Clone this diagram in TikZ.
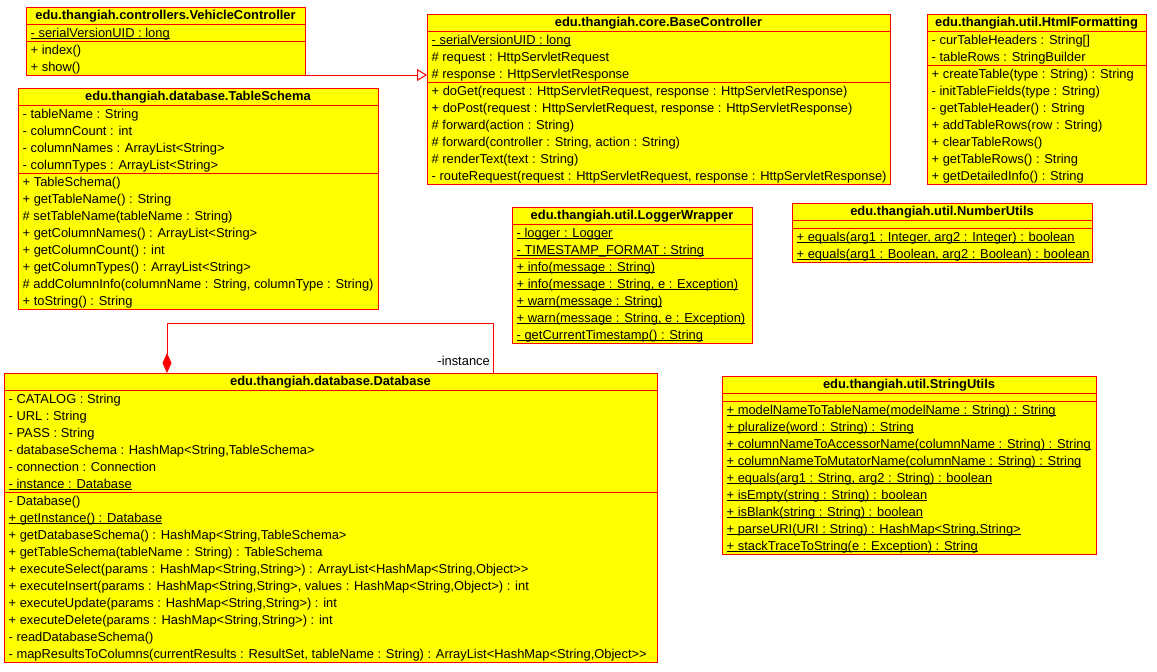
\documentclass[tikz,border=0pt]{standalone}
\usepackage{fontspec}
\setmainfont{Liberation Sans}[Ligatures=TeXOff]
\usetikzlibrary{arrows.meta}
\definecolor{umlred}{RGB}{255,0,0}
\definecolor{umlyellow}{RGB}{255,255,0}
\newcommand\stat[1]{\sbox0{#1}\rlap{\usebox0}\rule[-1.8pt]{\wd0}{0.9pt}}
\tikzset{
  classbox/.style={draw=umlred, fill=umlyellow, line width=1pt, inner sep=0pt, outer sep=0pt},
  sepline/.style={draw=umlred, line width=1pt},
  membertxt/.style={inner sep=0pt, font=\fontsize{12.9}{15}\selectfont, text=black},
  titletxt/.style={inner sep=0pt, font=\fontsize{12.9}{15}\selectfont\bfseries, text=black},
  gen/.style={draw=umlred, line width=1pt, -{Triangle[open, length=10pt, width=12pt, fill=white]}},
  assoc/.style={draw=umlred, line width=1pt, -{Diamond[length=20pt, width=9pt, fill=umlred]}},
  rolelabel/.style={membertxt}
}
\newcommand\umlclass[9]{%
  \pgfmathsetmacro\ucA{#3+17}%
  \pgfmathsetmacro\ucB{\ucA+ifthenelse(#6==0,8,#6*17)}%
  \pgfmathsetmacro\ucC{\ucB+#8*17}%
  \pgfmathsetmacro\ucW{#4-#2}%
  \pgfmathsetmacro\ucH{\ucC-#3}%
  \node[classbox, minimum width=\ucW pt, minimum height=\ucH pt, anchor=north west] (#1) at (#2,#3) {};
  \draw[sepline] (#2,\ucA) -- (#4,\ucA);
  \draw[sepline] (#2,\ucB) -- (#4,\ucB);
  \node[titletxt, anchor=base] (#1-title) at ({(#2+#4)/2},{#3+12.7}) {#5};
  \foreach \t [count=\i] in {#7} {\node[membertxt, anchor=base west] (#1-a\i) at ({#2+4.5},{\ucA+(\i-1)*17+13}) {\t};}
  \foreach \t [count=\i] in {#9} {\node[membertxt, anchor=base west] (#1-m\i) at ({#2+4.5},{\ucB+(\i-1)*17+13}) {\t};}
}
\begin{document}
\begin{tikzpicture}[x=1pt,y=-1pt]
\useasboundingbox[fill=white] (0,0) rectangle (1157,672);

\umlclass{vc}{26}{7}{305}{edu.thangiah.controllers.VehicleController}
  {1}{{\stat{- serialVersionUID : long}}}
  {2}{{+ index()},{+ show()}}

\umlclass{ts}{18}{88}{378}{edu.thangiah.database.TableSchema}
  {4}{{- tableName : String},{- columnCount : int},{- columnNames : ArrayList<String>},{- columnTypes : ArrayList<String>}}
  {8}{{+ TableSchema()},{+ getTableName() : String},{\# setTableName(tableName : String)},{+ getColumnNames() : ArrayList<String>},{+ getColumnCount() : int},{+ getColumnTypes() : ArrayList<String>},{\# addColumnInfo(columnName : String, columnType : String)},{+ toString() : String}}

\umlclass{bc}{427}{14}{890}{edu.thangiah.core.BaseController}
  {3}{{\stat{- serialVersionUID : long}},{\# request : HttpServletRequest},{\# response : HttpServletResponse}}
  {6}{{+ doGet(request : HttpServletRequest, response : HttpServletResponse)},{+ doPost(request : HttpServletRequest, response : HttpServletResponse)},{\# forward(action : String)},{\# forward(controller : String, action : String)},{\# renderText(text : String)},{- routeRequest(request : HttpServletRequest, response : HttpServletResponse)}}

\umlclass{hf}{927}{14}{1146}{edu.thangiah.util.HtmlFormatting}
  {2}{{- curTableHeaders : String[]},{- tableRows : StringBuilder}}
  {7}{{+ createTable(type : String) : String},{- initTableFields(type : String)},{- getTableHeader() : String},{+ addTableRows(row : String)},{+ clearTableRows()},{+ getTableRows() : String},{+ getDetailedInfo() : String}}

\umlclass{nu}{792}{203}{1092}{edu.thangiah.util.NumberUtils}
  {0}{}
  {2}{{\stat{+ equals(arg1 : Integer, arg2 : Integer) : boolean}},{\stat{+ equals(arg1 : Boolean, arg2 : Boolean) : boolean}}}

\umlclass{lw}{512}{207}{752}{edu.thangiah.util.LoggerWrapper}
  {2}{{\stat{- logger : Logger}},{\stat{- TIMESTAMP\_FORMAT : String}}}
  {5}{{\stat{+ info(message : String)}},{\stat{+ info(message : String, e : Exception)}},{\stat{+ warn(message : String)}},{\stat{+ warn(message : String, e : Exception)}},{\stat{- getCurrentTimestamp() : String}}}

\umlclass{db}{4}{373}{657}{edu.thangiah.database.Database}
  {6}{{- CATALOG : String},{- URL : String},{- PASS : String},{- databaseSchema : HashMap<String,TableSchema>},{- connection : Connection},{\stat{- instance : Database}}}
  {10}{{- Database()},{\stat{+ getInstance() : Database}},{+ getDatabaseSchema() : HashMap<String,TableSchema>},{+ getTableSchema(tableName : String) : TableSchema},{+ executeSelect(params : HashMap<String,String>) : ArrayList<HashMap<String,Object>>},{+ executeInsert(params : HashMap<String,String>, values : HashMap<String,Object>) : int},{+ executeUpdate(params : HashMap<String,String>) : int},{+ executeDelete(params : HashMap<String,String>) : int},{- readDatabaseSchema()},{- mapResultsToColumns(currentResults : ResultSet, tableName : String) : ArrayList<HashMap<String,Object>>}}

\umlclass{su}{722}{376}{1096}{edu.thangiah.util.StringUtils}
  {0}{}
  {9}{{\stat{+ modelNameToTableName(modelName : String) : String}},{\stat{+ pluralize(word : String) : String}},{\stat{+ columnNameToAccessorName(columnName : String) : String}},{\stat{+ columnNameToMutatorName(columnName : String) : String}},{\stat{+ equals(arg1 : String, arg2 : String) : boolean}},{\stat{+ isEmpty(string : String) : boolean}},{\stat{+ isBlank(string : String) : boolean}},{\stat{+ parseURI(URI : String) : HashMap<String,String>}},{\stat{+ stackTraceToString(e : Exception) : String}}}

% generalization VehicleController -> BaseController
\draw[gen] (vc.south east) -- (vc.south east -| bc.west);

% self association on Database
\coordinate (dbA) at (493,373);
\coordinate (dbB) at (167,373);
\draw[assoc] (dbA) -- ++(0,-50) -| (dbB);
\node[rolelabel, anchor=base east] (instlabel) at (490,365.5) {-instance};
\end{tikzpicture}
\end{document}
